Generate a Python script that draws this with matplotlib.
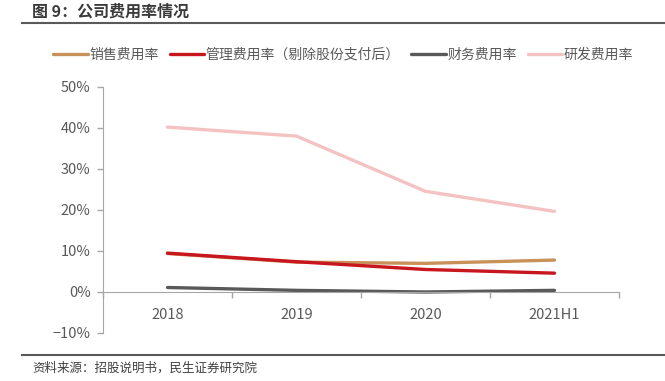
import matplotlib
matplotlib.use("Agg")
import matplotlib.pyplot as plt
from matplotlib.ticker import FixedLocator, PercentFormatter

plt.rcParams["font.family"] = ["Noto Sans CJK SC", "DejaVu Sans"]

# data (percent)
categories = ["2018", "2019", "2020", "2021H1"]
sales_rate = [9.3, 7.2, 6.9, 7.7]
admin_rate = [9.4, 7.3, 5.4, 4.5]
finance_rate = [1.0, 0.3, -0.1, 0.3]
rnd_rate = [40.2, 38.0, 24.5, 19.6]

series_names = ["销售费用率", "管理费用率（剔除股份支付后）", "财务费用率", "研发费用率"]
colors = ["#C8915A", "#C8161E", "#595959", "#F4C2C2"]

fig = plt.figure(figsize=(6.65, 3.81), dpi=100)
ax = fig.add_axes([103 / 665, 1 - 332.5 / 381, (619 - 103) / 665, (332.5 - 87) / 381])

x = list(range(len(categories)))
all_series = [sales_rate, admin_rate, finance_rate, rnd_rate]
# draw pink first so the others sit on top, keep legend order
order = [3, 2, 0, 1]
handles = {}
for i in order:
    (ln,) = ax.plot(x, all_series[i], color=colors[i], lw=2.4,
                    solid_capstyle="round", label=series_names[i])
    handles[i] = ln

ax.set_xlim(-0.5, len(categories) - 0.5)
ax.set_ylim(-10, 50)
ax.yaxis.set_major_locator(FixedLocator(range(-10, 51, 10)))
ax.yaxis.set_major_formatter(PercentFormatter(decimals=0))

# category axis: ticks at boundaries, labels at centres
ax.xaxis.set_major_locator(FixedLocator([i - 0.5 for i in range(len(categories) + 1)]))
ax.xaxis.set_minor_locator(FixedLocator(x))
ax.set_xticklabels([])
ax.set_xticklabels(categories, minor=True)
ax.tick_params(axis="x", which="major", length=4, direction="out", color="#A6A6A6", width=1)
ax.tick_params(axis="x", which="minor", length=0, pad=12, labelsize=10.5, labelcolor="#595959")
ax.tick_params(axis="y", length=4, direction="out", color="#A6A6A6", width=1,
               labelsize=10.5, labelcolor="#595959", pad=5)

for side in ["top", "right"]:
    ax.spines[side].set_visible(False)
ax.spines["bottom"].set_position(("data", 0))
ax.spines["bottom"].set_color("#A6A6A6")
ax.spines["left"].set_color("#A6A6A6")
ax.patch.set_visible(False)

fig.legend([handles[i] for i in range(4)], series_names, loc="center", ncol=4,
           bbox_to_anchor=(343 / 665, 1 - 55 / 381), frameon=False,
           fontsize=10, handlelength=2.5, handletextpad=0.1, columnspacing=0.8,
           labelcolor="#595959")

# title and footer
fig.text(32 / 665, 1 - 12 / 381, "图 9：公司费用率情况", fontsize=11.5, fontweight="bold",
         color="#3A3A3A", va="center", ha="left")
fig.add_artist(plt.Line2D([22 / 665, 1], [1 - 23 / 381] * 2, color="#595959", lw=1.5))
fig.add_artist(plt.Line2D([22 / 665, 1], [1 - 355 / 381] * 2, color="#595959", lw=1.5))
fig.text(32 / 665, 1 - 368 / 381, "资料来源：招股说明书，民生证券研究院", fontsize=9,
         color="#404040", va="center", ha="left")

fig.savefig("out.png", dpi=100)
